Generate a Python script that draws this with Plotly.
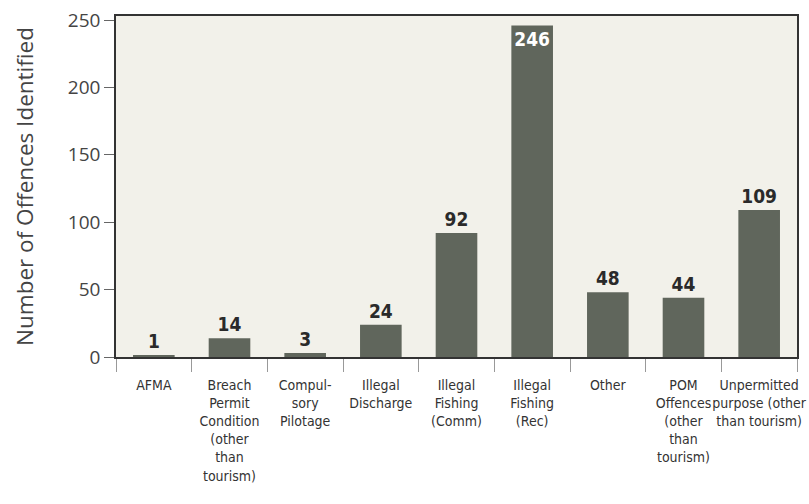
import plotly.graph_objects as go

categories = [
    "AFMA",
    "Breach<br>Permit<br>Condition<br>(other<br>than<br>tourism)",
    "Compul-<br>sory<br>Pilotage",
    "Illegal<br>Discharge",
    "Illegal<br>Fishing<br>(Comm)",
    "Illegal<br>Fishing<br>(Rec)",
    "Other",
    "POM<br>Offences<br>(other<br>than<br>tourism)",
    "Unpermitted<br>purpose (other<br>than tourism)",
]
values = [1, 14, 3, 24, 92, 246, 48, 44, 109]
y_ticks = [0, 50, 100, 150, 200, 250]

narrow = "DejaVu Sans Condensed, sans-serif"
bar_color = "#60665c"

text_pos = ["inside" if v > 200 else "outside" for v in values]
text_col = ["white" if v > 200 else "#2a2a2a" for v in values]

fig = go.Figure(
    go.Bar(
        x=categories,
        y=values,
        marker=dict(color=bar_color, line=dict(width=0)),
        text=[str(v) for v in values],
        textposition=text_pos,
        textangle=0,
        insidetextanchor="end",
        constraintext="none",
        textfont=dict(family=narrow, size=19, color=text_col, weight="bold"),
        cliponaxis=False,
    )
)

fig.update_layout(
    width=809,
    height=504,
    margin=dict(l=116, r=12, t=16, b=147),
    paper_bgcolor="white",
    plot_bgcolor="#f2f1ea",
    bargap=0.45,
    showlegend=False,
    font=dict(family="Open Sans, sans-serif", color="#333"),
)

fig.update_xaxes(
    type="category",
    automargin=False,
    tickson="boundaries",
    ticks="outside",
    ticklen=13,
    tickcolor="#999",
    tickwidth=1,
    ticklabelstandoff=14,
    showline=True,
    linecolor="#333",
    linewidth=1.5,
    mirror=True,
    showgrid=False,
    tickangle=0,
    ticklabeloverflow="allow",
    tickfont=dict(family=narrow, size=14, color="#333"),
)

fig.update_yaxes(
    automargin=False,
    range=[0, 253],
    tickvals=y_ticks,
    ticks="outside",
    ticklen=10,
    tickcolor="#666",
    showline=True,
    linecolor="#333",
    linewidth=1.5,
    mirror=True,
    showgrid=False,
    zeroline=False,
    ticklabeloverflow="allow",
    tickfont=dict(family="Open Sans, sans-serif", size=19, color="#444"),
    title=dict(
        text="Number of Offences Identified",
        font=dict(family="Open Sans, sans-serif", size=22.5, color="#444"),
        standoff=28,
    ),
)

fig.write_html(
    "out.html",
    config={"displayModeBar": False},
    post_script="document.body.style.margin='0';",
)
